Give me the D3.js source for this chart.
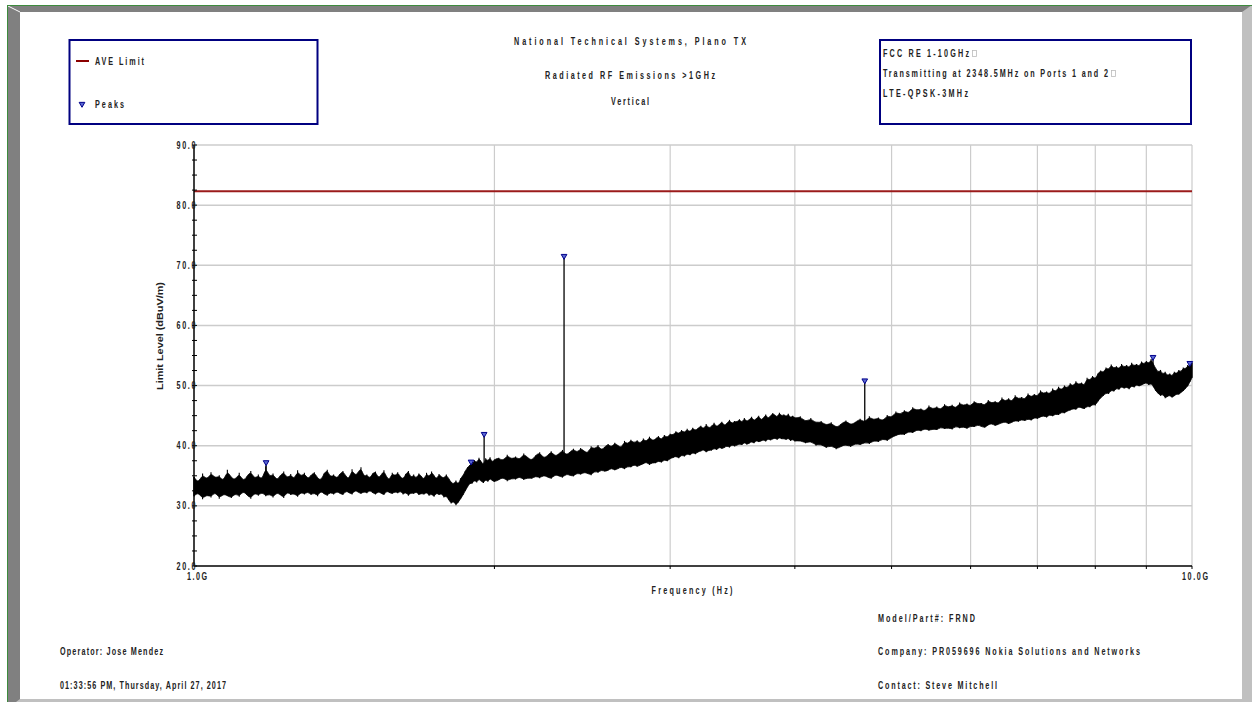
<!DOCTYPE html>
<html><head><meta charset="utf-8">
<script src="https://cdn.jsdelivr.net/npm/d3@7"></script>
<style>
html,body{margin:0;padding:0;background:#fff;}
svg{display:block;}
.t{font-family:"Liberation Sans",Arial,sans-serif;font-weight:bold;font-size:10px;fill:#222;}
</style></head>
<body>
<svg id="c" width="1252" height="702"></svg>
<script>
// ---------------- data ----------------
const titleLines = ["National Technical Systems, Plano TX", "Radiated RF Emissions >1GHz", "Vertical"];
const legendLabels = ["AVE Limit", "Peaks"];
const infoLines = ["FCC RE 1-10GHz", "Transmitting at 2348.5MHz on Ports 1 and 2", "LTE-QPSK-3MHz"];
const footerLeft = ["Operator: Jose Mendez", "01:33:56 PM, Thursday, April 27, 2017"];
const footerRight = ["Model/Part#: FRND", "Company: PR059696 Nokia Solutions and Networks", "Contact: Steve Mitchell"];
const yTickValues = [20, 30, 40, 50, 60, 70, 80, 90];
const yTickLabels = ["20.0", "30.0", "40.0", "50.0", "60.0", "70.0", "80.0", "90.0"];
const yMinorTicks = [22.5,25,27.5,32.5,35,37.5,42.5,45,47.5,52.5,55,57.5,62.5,65,67.5,72.5,75,77.5,82.5,85,87.5];
const xGridGHz = [2, 3, 4, 5, 6, 7, 8, 9, 10];
const xLabelGHz = [1, 10];
const xTickLabels = ["1.0G", "10.0G"];
const aveLimit = 82.3;

// measured trace: frequency (GHz), lower / upper envelope of the noise band (dBuV/m)
const traceFreq = [
1.00,1.01,1.02,1.03,1.04,1.05,1.06,1.07,1.08,1.09,1.10,1.11,1.12,1.13,1.14,1.15,1.16,1.17,1.18,1.19,
1.20,1.21,1.22,1.23,1.24,1.25,1.26,1.27,1.28,1.29,1.30,1.31,1.32,1.33,1.34,1.35,1.36,1.37,1.38,1.39,
1.40,1.41,1.42,1.43,1.44,1.45,1.46,1.47,1.48,1.49,1.50,1.51,1.52,1.53,1.54,1.55,1.56,1.57,1.58,1.59,
1.60,1.61,1.62,1.63,1.64,1.65,1.66,1.67,1.68,1.69,1.70,1.71,1.72,1.73,1.74,1.75,1.76,1.77,1.78,1.79,
1.80,1.81,1.82,1.83,1.84,1.85,1.86,1.87,1.88,1.89,1.90,1.91,1.92,1.93,1.94,1.95,1.96,1.97,1.98,1.99,2.00,
2.02,2.04,2.06,2.08,2.10,2.12,2.14,2.16,2.18,2.20,2.22,2.24,2.26,2.28,2.30,2.32,2.34,2.36,2.38,2.40,
2.42,2.44,2.46,2.48,2.50,2.52,2.54,2.56,2.58,2.60,2.62,2.64,2.66,2.68,2.70,2.72,2.74,2.76,2.78,2.80,
2.82,2.84,2.86,2.88,2.90,2.92,2.94,2.96,2.98,3.00,3.02,3.04,3.06,3.08,3.10,3.12,3.14,3.16,3.18,3.20,
3.22,3.24,3.26,3.28,3.30,3.32,3.34,3.36,3.38,3.40,3.42,3.44,3.46,3.48,3.50,3.52,3.54,3.56,3.58,3.60,
3.62,3.64,3.66,3.68,3.70,3.72,3.74,3.76,3.78,3.80,3.82,3.84,3.86,3.88,3.90,3.92,3.94,3.96,3.98,4.00,
4.05,4.10,4.15,4.20,4.25,4.30,4.35,4.40,4.45,4.50,4.55,4.60,4.65,4.70,4.75,4.80,4.85,4.90,4.95,5.00,
5.05,5.10,5.15,5.20,5.25,5.30,5.35,5.40,5.45,5.50,5.55,5.60,5.65,5.70,5.75,5.80,5.85,5.90,5.95,6.00,
6.05,6.10,6.15,6.20,6.25,6.30,6.35,6.40,6.45,6.50,6.55,6.60,6.65,6.70,6.75,6.80,6.85,6.90,6.95,7.00,
7.05,7.10,7.15,7.20,7.25,7.30,7.35,7.40,7.45,7.50,7.55,7.60,7.65,7.70,7.75,7.80,7.85,7.90,7.95,8.00,
8.05,8.10,8.15,8.20,8.25,8.30,8.35,8.40,8.45,8.50,8.55,8.60,8.65,8.70,8.75,8.80,8.85,8.90,8.95,9.00,
9.05,9.10,9.15,9.20,9.25,9.30,9.35,9.40,9.45,9.50,9.55,9.60,9.65,9.70,9.75,9.80,9.85,9.90,9.95,10.00];
const traceHigh = [
34.8,33.7,35.4,34.2,35.6,34.5,35.1,33.9,36.0,34.6,34.3,35.5,34.0,34.9,35.8,34.4,35.2,34.1,36.6,34.7,
35.4,34.2,35.0,35.7,34.5,35.3,34.3,35.9,34.8,35.5,34.4,35.1,35.6,34.6,34.2,35.4,36.0,34.7,35.2,34.5,
35.3,35.8,34.9,34.4,36.1,35.0,35.5,36.4,34.8,35.2,34.5,35.4,35.7,34.6,35.1,35.9,34.7,34.3,35.5,34.9,
35.6,34.8,34.4,35.3,35.8,34.6,35.2,34.5,35.4,34.9,34.3,35.5,34.7,35.7,35.0,34.4,35.3,34.8,34.6,35.2,
34.5,33.9,33.6,34.2,33.5,34.6,35.0,35.8,36.4,36.8,36.9,37.6,37.1,38.0,37.3,36.8,37.9,37.4,38.1,37.2,37.7,
38.0,37.4,38.5,37.7,38.2,37.6,38.7,38.0,37.5,38.4,38.9,37.9,38.3,39.1,38.2,38.6,39.3,38.4,38.9,39.5,
38.8,39.6,39.1,38.7,39.9,39.4,40.1,39.2,39.8,40.3,39.7,40.5,40.0,39.6,40.8,40.2,41.0,40.4,40.9,40.3,
41.2,40.6,41.5,40.8,41.1,41.6,40.9,41.8,41.3,42.0,41.7,42.4,41.9,42.6,42.1,42.8,42.2,43.0,42.5,42.9,
43.3,42.7,43.6,42.9,43.2,43.8,43.1,43.5,44.0,43.3,43.7,44.3,43.6,44.1,43.9,44.4,43.8,44.6,44.0,44.3,
44.8,44.1,44.5,45.0,44.2,44.6,45.2,44.5,44.9,45.4,45.1,44.7,45.5,44.9,45.2,44.8,45.3,44.6,45.0,44.5,
44.9,43.9,44.6,43.7,44.1,43.3,43.9,42.9,43.6,44.2,43.4,43.9,44.5,43.8,44.9,44.2,44.7,44.0,45.1,44.6,
45.7,45.1,45.9,45.3,46.4,45.8,46.2,45.6,46.7,46.0,46.5,45.9,46.9,46.3,46.8,46.1,47.2,46.6,47.0,46.5,
47.4,46.9,47.1,46.6,47.6,47.0,47.4,46.9,48.0,47.3,47.9,47.2,48.4,47.7,48.1,47.6,48.7,48.0,48.6,48.1,
49.2,48.6,49.0,48.5,49.5,48.9,49.8,49.2,50.0,49.5,50.4,49.8,50.7,50.1,50.5,49.9,51.3,50.8,51.6,51.0,
52.0,52.5,52.1,53.0,52.6,53.5,52.8,53.2,52.7,53.6,53.0,53.4,52.9,53.8,53.2,53.6,53.1,54.0,53.5,54.1,
53.6,54.4,53.5,52.8,52.2,52.6,51.8,52.3,51.6,52.0,51.5,52.3,51.9,52.6,52.2,53.0,52.7,53.4,53.1,53.8];
const traceLow = [
31.6,32.3,31.1,31.9,31.4,32.4,31.2,32.0,31.7,31.3,32.1,31.5,32.5,31.8,31.2,32.2,31.7,32.3,31.6,32.0,
31.4,32.2,31.9,31.3,32.4,31.8,32.1,31.5,32.3,31.9,32.4,31.8,32.2,31.6,32.5,32.0,31.7,32.3,31.9,32.4,
32.1,31.8,32.5,32.2,31.9,32.6,32.3,32.0,32.4,32.1,32.6,32.2,31.9,32.4,32.1,31.8,32.5,32.2,32.0,32.4,
32.1,32.5,31.9,32.3,31.7,32.2,32.0,32.4,31.8,32.1,31.9,32.3,31.7,32.0,31.5,32.2,31.8,32.1,31.4,31.7,
31.0,30.4,30.8,30.1,30.6,31.2,31.8,32.5,33.2,33.8,33.7,34.3,33.9,34.5,34.1,33.8,34.4,34.0,34.6,34.2,34.0,
34.3,34.8,34.1,34.6,34.4,34.9,34.3,34.7,34.5,35.0,34.6,35.1,34.8,34.5,35.2,35.0,34.7,35.3,35.1,34.9,
35.5,35.2,35.6,35.4,35.1,35.8,35.5,36.0,35.7,35.9,36.3,35.9,36.2,36.5,36.1,36.6,36.4,36.9,36.5,36.8,
37.0,37.3,36.8,37.2,37.1,37.5,37.2,37.7,37.4,37.9,38.0,38.3,37.9,38.5,38.2,38.7,38.4,38.9,38.6,39.0,
39.1,39.4,38.9,39.3,39.2,39.6,39.3,39.8,39.5,39.7,40.0,39.7,40.2,39.9,40.1,40.3,40.1,40.6,40.2,40.4,
40.7,40.4,40.9,40.6,40.8,41.0,40.7,41.2,40.9,41.1,41.3,41.0,41.4,41.1,41.2,41.0,41.3,40.8,41.1,40.7,
40.9,40.4,40.8,40.0,40.3,39.6,40.1,39.4,39.9,40.2,39.8,40.4,40.1,40.6,40.3,40.9,40.6,41.2,40.8,41.4,
41.7,42.0,41.8,42.4,42.1,42.7,42.4,42.9,42.5,42.8,42.6,43.1,42.8,43.0,42.7,43.3,42.9,43.2,42.8,43.3,
43.1,43.5,43.2,43.0,43.5,43.7,43.3,43.6,43.8,44.0,43.6,43.9,44.2,44.0,44.4,44.1,44.5,44.2,44.7,44.5,
44.8,45.0,44.7,45.2,44.9,45.3,45.1,45.6,45.4,45.8,45.9,46.2,46.0,46.5,46.3,46.1,46.6,46.4,46.9,46.7,
47.4,48.0,48.3,48.8,48.6,49.3,49.0,49.6,49.3,49.9,49.5,49.8,49.4,50.0,49.7,50.2,49.9,50.1,50.3,50.5,
50.1,50.4,49.8,49.1,48.7,48.3,48.6,47.9,48.2,48.4,48.0,48.3,48.6,48.5,48.9,49.1,49.5,49.9,50.6,51.3];

// detected peaks
const peakFreq  = [1.181, 1.895, 1.953, 2.3485, 4.70, 9.14, 9.95];
const peakLevel = [37.4, 37.5, 42.1, 71.7, 51.0, 54.9, 53.9];
const peakBase  = [35.0, 35.0, 36.5, 37.0, 43.5, 53.0, 53.0];

// ---------------- drawing ----------------
const svg = d3.select("#c");
const x = d3.scaleLog().domain([1, 10]).range([194, 1192]);
const y = d3.scaleLinear().domain([20, 90]).range([566, 145]);

const SX = 0.72; // condensed lettering
function label(px, py, str, len, anchor) {
  const g = svg.append("g").attr("transform", `translate(${px},${py}) scale(${SX},1)`);
  g.append("text").attr("class", "t").attr("x", 0).attr("y", 0)
    .attr("text-anchor", anchor || "start").attr("textLength", len / SX).attr("lengthAdjust", "spacing")
    .text(str);
  return g;
}

// frame
svg.append("rect").attr("x",0).attr("y",0).attr("width",1252).attr("height",702).attr("fill","#fff");
svg.append("polygon").attr("points","7,5 1252,5 1252,12 1242,12 20,12 20,702 7,702").attr("fill","#808080");
svg.append("polygon").attr("points","1242,12 1252,5 1252,702 1242,702").attr("fill","#c0c0c0");
svg.append("polygon").attr("points","20,699 1252,699 1252,702 16,702").attr("fill","#c0c0c0");
svg.append("line").attr("x1",8).attr("y1",6).attr("x2",20).attr("y2",12).attr("stroke","#fff").attr("stroke-width",1);
svg.append("line").attr("x1",7.5).attr("y1",5).attr("x2",7.5).attr("y2",702).attr("stroke","#3d8b3d").attr("stroke-width",1);
svg.append("line").attr("x1",7).attr("y1",5.5).attr("x2",1252).attr("y2",5.5).attr("stroke","#3d8b3d").attr("stroke-width",1);

// gridlines
const grid = svg.append("g");
yTickValues.filter(v => v > 20).forEach(v => {
  grid.append("line").attr("x1", x(1)).attr("x2", x(10)).attr("y1", y(v)).attr("y2", y(v))
    .attr("stroke", "#cccccc").attr("stroke-width", 1.5);
});
xGridGHz.forEach(f => {
  grid.append("line").attr("x1", x(f)).attr("x2", x(f)).attr("y1", y(90)).attr("y2", y(20))
    .attr("stroke", "#cccccc").attr("stroke-width", 1.2);
});

// limit line
svg.append("line").attr("x1", x(1)).attr("x2", x(10)).attr("y1", y(aveLimit)).attr("y2", y(aveLimit))
  .attr("stroke", "#9b1b1b").attr("stroke-width", 2);

// trace: smoothed solid core plus one min-max stroke per sample
const n = Math.min(traceFreq.length, traceHigh.length, traceLow.length);
const traceData = traceFreq.slice(0, n).map((f, i) => ({f, lo: traceLow[i], hi: traceHigh[i]}));
const area = d3.area().x(d => x(d.f)).y0(d => y(d.lo)).y1(d => y(d.hi)).curve(d3.curveBasis);
svg.append("path").datum(traceData).attr("d", area).attr("fill", "#000").attr("stroke", "#000").attr("stroke-width", 0.8);
svg.append("g").selectAll("line").data(traceData).join("line")
  .attr("x1", d => x(d.f)).attr("x2", d => x(d.f)).attr("y1", d => y(d.lo)).attr("y2", d => y(d.hi))
  .attr("stroke", "#000").attr("stroke-width", 1.1);

// peak spikes
peakFreq.forEach((f, i) => {
  svg.append("line").attr("x1", x(f)).attr("x2", x(f)).attr("y1", y(peakBase[i])).attr("y2", y(peakLevel[i]))
    .attr("stroke", "#000").attr("stroke-width", 1.3);
});

// axes
const ax = svg.append("g");
ax.append("line").attr("x1", x(1)).attr("x2", x(1)).attr("y1", y(90)).attr("y2", y(20)).attr("stroke", "#000").attr("stroke-width", 1.5);
ax.append("line").attr("x1", x(1)).attr("x2", x(10)).attr("y1", y(20)).attr("y2", y(20)).attr("stroke", "#000").attr("stroke-width", 1.5);
yTickValues.concat(yMinorTicks).forEach(v => {
  ax.append("line").attr("x1", x(1) - 2).attr("x2", x(1) + 3).attr("y1", y(v)).attr("y2", y(v)).attr("stroke", "#000").attr("stroke-width", 1);
});
xGridGHz.forEach(f => {
  ax.append("line").attr("x1", x(f)).attr("x2", x(f)).attr("y1", y(20)).attr("y2", y(20) + 3).attr("stroke", "#000").attr("stroke-width", 1);
});
yTickValues.forEach((v, i) => label(x(1) + 1.5, y(v) + 3.5, yTickLabels[i], 19, "end"));
const xLabelLen = [20, 26];
xLabelGHz.forEach((f, i) => label(x(f) + 3, y(20) + 13.5, xTickLabels[i], xLabelLen[i], "middle"));

// axis titles
label(692, 594, "Frequency (Hz)", 81, "middle");
svg.append("text").attr("transform", "translate(163,336) rotate(-90)").attr("text-anchor", "middle")
  .attr("textLength", 108).attr("lengthAdjust", "spacingAndGlyphs")
  .style("font-family", "'Liberation Sans',Arial,sans-serif").style("font-weight", "bold").style("font-size", "9px").style("fill", "#222")
  .text("Limit Level (dBuV/m)");

// peak markers
const tri = d3.symbol().type(d3.symbolTriangle).size(14);
peakFreq.forEach((f, i) => {
  svg.append("path").attr("d", tri()).attr("transform", `translate(${x(f)},${y(peakLevel[i]) + 1}) rotate(180)`)
    .attr("fill", "#5a68d0").attr("stroke", "#00008b").attr("stroke-width", 1);
});

// titles
const titleY = [45, 79, 105];
const titleLen = [232, 170, 38];
titleLines.forEach((t, i) => label(630, titleY[i], t, titleLen[i], "middle"));

// legend box
svg.append("rect").attr("x", 69.5).attr("y", 40).attr("width", 248).attr("height", 84)
  .attr("fill", "#fff").attr("stroke", "#000080").attr("stroke-width", 2);
svg.append("line").attr("x1", 76).attr("x2", 89).attr("y1", 61).attr("y2", 61).attr("stroke", "#8b0000").attr("stroke-width", 2);
svg.append("path").attr("d", tri()).attr("transform", "translate(82,104) rotate(180)")
  .attr("fill", "#5a68d0").attr("stroke", "#00008b").attr("stroke-width", 1);
label(95, 65, legendLabels[0], 49);
label(95, 107.5, legendLabels[1], 29);

// info box
svg.append("rect").attr("x", 880).attr("y", 40).attr("width", 311).attr("height", 84)
  .attr("fill", "#fff").attr("stroke", "#000080").attr("stroke-width", 2);
const infoY = [57, 77, 97];
const infoLen = [86, 225, 85];
infoLines.forEach((t, i) => {
  label(883, infoY[i], t, infoLen[i]);
  if (i < 2) {
    svg.append("rect").attr("x", 883 + infoLen[i] + 3.5).attr("y", infoY[i] - 6.5).attr("width", 4).attr("height", 6)
      .attr("fill", "none").attr("stroke", "#bbb").attr("stroke-width", 0.8);
  }
});

// footer
const footLY = [655, 689];
const footLLen = [103, 166];
footerLeft.forEach((t, i) => label(60, footLY[i], t, footLLen[i]));
const footRY = [622, 655, 689];
const footRLen = [97, 262, 119];
footerRight.forEach((t, i) => label(878, footRY[i], t, footRLen[i]));
</script>
</body></html>
